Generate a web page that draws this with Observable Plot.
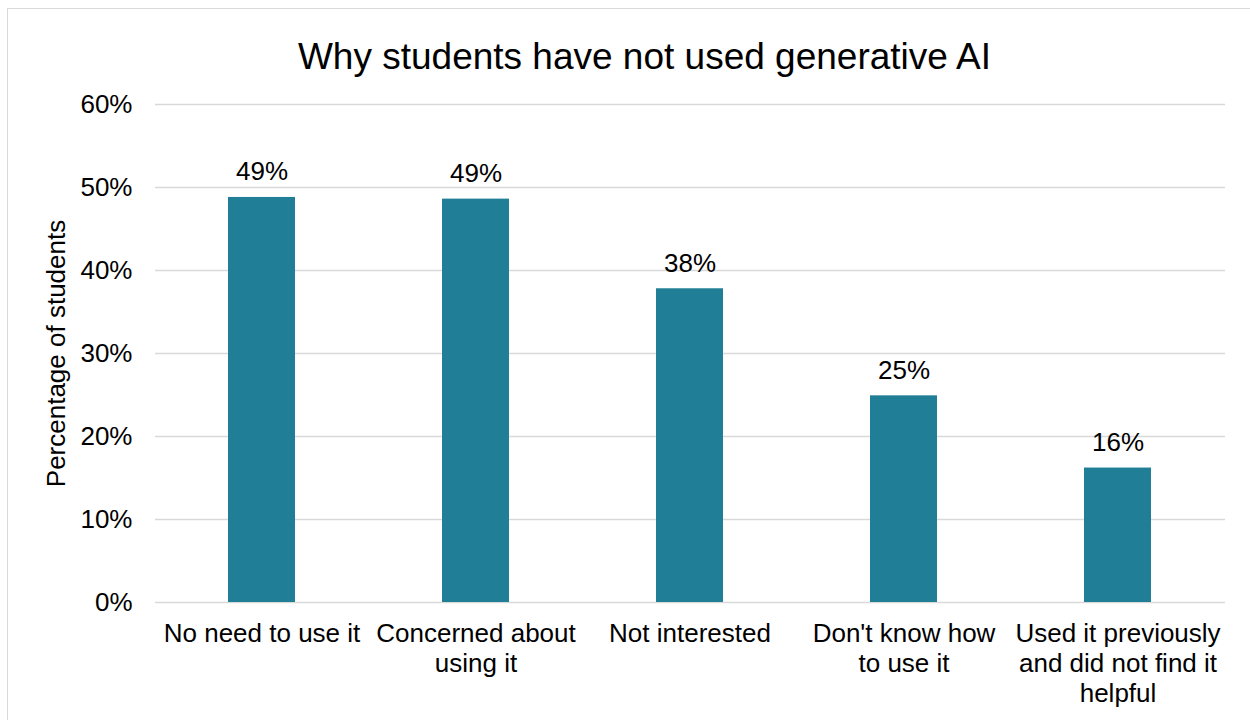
<!DOCTYPE html>
<html>
<head>
<meta charset="utf-8">
<script src="https://cdn.jsdelivr.net/npm/d3@7"></script>
<script src="https://cdn.jsdelivr.net/npm/@observablehq/plot@0.6"></script>
<style>
  html, body { margin: 0; padding: 0; background: #fff; }
  body { width: 1250px; height: 720px; overflow: hidden; position: relative; font-family: "Liberation Sans", Arial, sans-serif; }
  #frame { position: absolute; left: 7px; top: 8px; width: 1300px; height: 800px; border: 1px solid #d9d9d9; box-sizing: border-box; }
  #title { position: absolute; left: 0; top: 38px; width: 1289px; text-align: center; font-size: 37px; color: #000; line-height: 1; }
  #chart { position: absolute; left: 0; top: 0; }
</style>
</head>
<body>
<div id="frame"></div>
<div id="title">Why students have not used generative AI</div>
<div id="chart"></div>
<script>
const categories = [
  "No need to use it",
  "Concerned about using it",
  "Not interested",
  "Don't know how to use it",
  "Used it previously and did not find it helpful"
];
const tickLabels = [
  "No need to use it",
  "Concerned about\nusing it",
  "Not interested",
  "Don't know how\nto use it",
  "Used it previously\nand did not find it\nhelpful"
];
const values = [0.488, 0.486, 0.378, 0.249, 0.162];
const valueLabels = ["49%", "49%", "38%", "25%", "16%"];
const yTicks = [0, 0.1, 0.2, 0.3, 0.4, 0.5, 0.6];
const yTickLabels = ["0%", "10%", "20%", "30%", "40%", "50%", "60%"];

const data = categories.map((c, i) => ({category: c, value: values[i], label: valueLabels[i]}));

const chart = Plot.plot({
  width: 1250,
  height: 720,
  marginTop: 104,
  marginBottom: 118,
  marginLeft: 155,
  marginRight: 25,
  style: {fontFamily: '"Liberation Sans", Arial, sans-serif', fontSize: "26px", color: "#000", background: "transparent", overflow: "visible"},
  x: {domain: categories, paddingInner: 0.686, paddingOuter: 0.343, label: null},
  y: {domain: [0, 0.6], label: null},
  marks: [
    Plot.ruleY(yTicks, {stroke: "#d9d9d9", strokeWidth: 1.5}),
    Plot.barY(data, {x: "category", y: "value", fill: "#217e97"}),
    Plot.text(data, {x: "category", y: "value", text: "label", dy: -17, lineAnchor: "bottom", fontSize: 26, fill: "#000"}),
    Plot.axisY(yTicks, {
      tickSize: 0, tickPadding: 23, label: null, fontSize: 26,
      tickFormat: (d) => yTickLabels[yTicks.indexOf(d)]
    }),
    Plot.axisX({
      tickSize: 0, tickPadding: 18, label: null, fontSize: 26, lineHeight: 1.15, lineAnchor: "top",
      tickFormat: (d) => tickLabels[categories.indexOf(d)]
    }),
    Plot.text(["Percentage of students"], {
      frameAnchor: "left", textAnchor: "middle", dx: -91, rotate: -90, fontSize: 26, fill: "#000", lineAnchor: "bottom"
    })
  ]
});
document.getElementById("chart").appendChild(chart);
</script>
</body>
</html>
